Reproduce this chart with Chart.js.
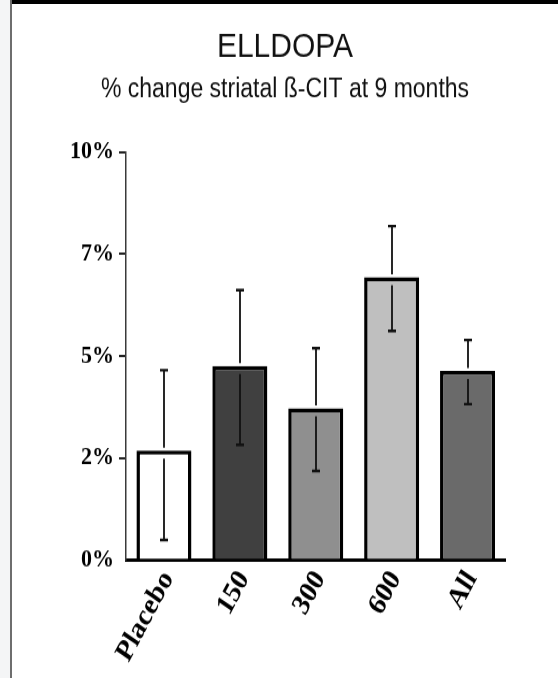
<!DOCTYPE html>
<html>
<head>
<meta charset="utf-8">
<script src="https://cdn.jsdelivr.net/npm/chart.js@4/dist/chart.umd.min.js"></script>
<style>
  html, body { margin: 0; padding: 0; background: #fff; }
  body { width: 558px; height: 678px; position: relative; overflow: hidden; }
  #strip { position: absolute; left: 0; top: 0; width: 10px; height: 678px; background: #f4f5f6; }
  #rule { position: absolute; left: 10px; top: 0; width: 2px; height: 678px; background: #6e6e6e; }
  #topbar { position: absolute; left: 12px; top: 0; width: 546px; height: 4px; background: #000; }
  /* the figure is drawn on a 546x586 canvas and stretched to 546x674 */
  #frame { position: absolute; left: 12px; top: 4px; width: 546px; height: 586px;
           transform: scaleY(1.150171); transform-origin: 0 0; }
</style>
</head>
<body>
<div id="strip"></div><div id="rule"></div><div id="topbar"></div>
<div id="frame"><canvas id="c"></canvas></div>
<script>
// Dose groups and mean % change in striatal β-CIT uptake at 9 months
const categories = ['Placebo', '150', '300', '600', 'All'];
const meanChange = [2.68, 4.75, 3.72, 6.93, 4.63];
// Upper and lower ends of each error bar
const errorHigh = [4.65, 6.61, 5.19, 8.18, 5.39];
const errorLow = [0.49, 2.82, 2.18, 5.61, 3.82];
const barColors = ['#ffffff', '#404040', '#8f8f8f', '#bfbfbf', '#6a6a6a'];
// Y axis tick positions and their printed labels
const tickValues = [0, 2.5, 5, 7.5, 10];
const tickLabels = ['0%', '2%', '5%', '7%', '10%'];

const serif = "'Liberation Serif', 'Times New Roman', Times, serif";
const sans = "'Liberation Sans', Arial, Helvetica, sans-serif";
Chart.defaults.color = '#000';

// Vertical whiskers with caps, broken where they pass the bar top
const errorBars = {
  id: 'errorBars',
  afterDatasetsDraw(chart) {
    const meta = chart.getDatasetMeta(0);
    const yScale = chart.scales.y;
    const ctx = chart.ctx;
    ctx.save();
    ctx.strokeStyle = '#111';
    meta.data.forEach((bar, i) => {
      const x = Math.round(bar.x);
      const yHi = yScale.getPixelForValue(errorHigh[i]);
      const yLo = yScale.getPixelForValue(errorLow[i]);
      const yTop = bar.y;
      ctx.lineWidth = 1.8;
      ctx.beginPath();
      ctx.moveTo(x, yHi); ctx.lineTo(x, yTop - 2.5);
      ctx.moveTo(x, yTop + 7); ctx.lineTo(x, yLo);
      ctx.stroke();
      ctx.lineWidth = 2.4;
      ctx.beginPath();
      ctx.moveTo(x - 4, yHi); ctx.lineTo(x + 4, yHi);
      ctx.moveTo(x - 4, yLo); ctx.lineTo(x + 4, yLo);
      ctx.stroke();
    });
    ctx.restore();
  }
};

new Chart(document.getElementById('c'), {
  type: 'bar',
  data: {
    labels: categories,
    datasets: [{
      data: meanChange,
      backgroundColor: barColors,
      borderColor: '#000',
      borderWidth: 3.5,
      borderSkipped: 'bottom',
      categoryPercentage: 1,
      barPercentage: 0.725
    }]
  },
  options: {
    responsive: true,
    maintainAspectRatio: false,
    animation: false,
    layout: { padding: { left: 52.5, right: 52.5, top: 0, bottom: 0 } },
    plugins: {
      legend: { display: false },
      tooltip: { enabled: false },
      title: {
        display: true,
        text: 'ELLDOPA',
        color: '#111',
        font: { family: sans, size: 30, weight: 'normal' },
        padding: { top: 19.4, bottom: 0 }
      },
      subtitle: {
        display: true,
        text: '% change striatal ß-CIT at 9 months',
        color: '#111',
        font: { family: sans, size: 23, weight: 'normal' },
        padding: { top: 5.5, bottom: 40 }
      }
    },
    scales: {
      x: {
        grid: { display: false },
        border: { display: true, color: '#000', width: 3 },
        ticks: {
          color: '#000',
          font: { family: serif, size: 26, weight: 'bold' },
          minRotation: 58.5,
          maxRotation: 58.5,
          autoSkip: false,
          labelOffset: 4,
          padding: -4
        },
        afterFit(scale) { scale.height = 102.6; }
      },
      y: {
        min: 0,
        max: 10,
        afterBuildTicks(scale) { scale.ticks = tickValues.map(v => ({ value: v })); },
        ticks: {
          color: '#000',
          font: { family: serif, size: 22, weight: 'bold' },
          padding: 5,
          callback(value) { return tickLabels[tickValues.indexOf(value)]; }
        },
        grid: {
          drawOnChartArea: false,
          drawTicks: true,
          tickLength: 7,
          lineWidth: 2,
          color: ctx => (ctx.tick && ctx.tick.value === 0) ? 'rgba(0,0,0,0)' : '#222'
        },
        border: { display: true, color: '#3a3a3a', width: 1.5 },
        afterFit(scale) { scale.width = 61.5; }
      }
    }
  },
  plugins: [errorBars]
});
</script>
</body>
</html>
